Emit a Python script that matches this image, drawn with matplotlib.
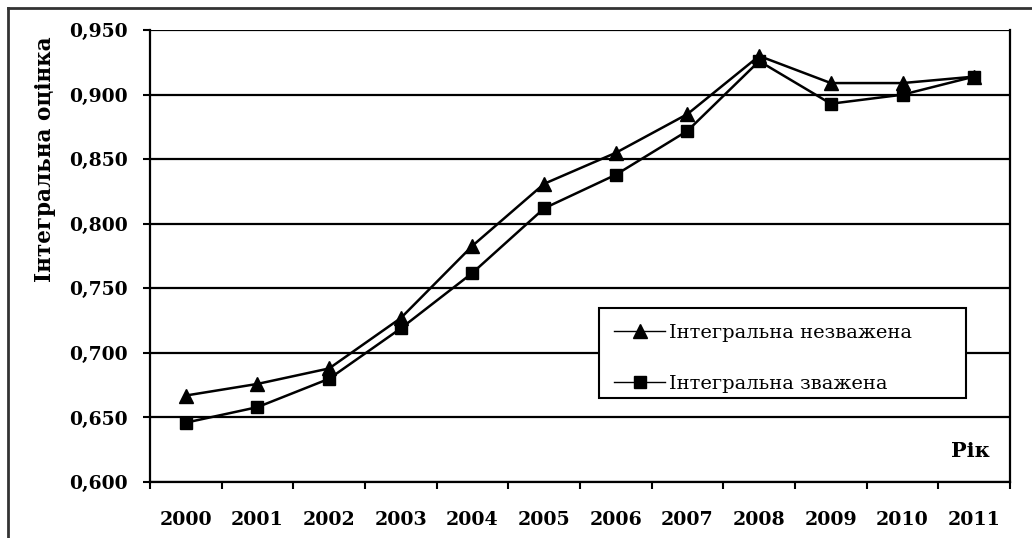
import matplotlib
matplotlib.use('Agg')
from matplotlib import pyplot as plt
from matplotlib.lines import Line2D
from matplotlib.patches import Rectangle
from matplotlib.ticker import FuncFormatter, FixedLocator

years = ['2000', '2001', '2002', '2003', '2004', '2005',
         '2006', '2007', '2008', '2009', '2010', '2011']
unweighted = [0.667, 0.676, 0.688, 0.727, 0.783, 0.831,
              0.855, 0.885, 0.930, 0.909, 0.909, 0.914]
weighted = [0.646, 0.658, 0.680, 0.719, 0.762, 0.812,
            0.838, 0.872, 0.926, 0.893, 0.900, 0.914]

plt.rcParams['font.family'] = ['DejaVu Serif', 'Liberation Serif']

fig = plt.figure(figsize=(10.32, 5.38), dpi=100)
ax = fig.add_axes([0.1453, 0.104, 0.8334, 0.840])

x = list(range(len(years)))
ax.plot(x, unweighted, color='black', lw=1.8, marker='^', markersize=10,
        label='Інтегральна незважена')
ax.plot(x, weighted, color='black', lw=1.8, marker='s', markersize=9,
        label='Інтегральна зважена')

ax.set_xlim(-0.5, len(years) - 0.5)
ax.set_ylim(0.600, 0.950)
ax.set_yticks([0.60 + 0.05 * i for i in range(8)])
ax.yaxis.set_major_formatter(FuncFormatter(lambda v, p: f'{v:.3f}'.replace('.', ',')))
ax.set_xticks(x)
ax.set_xticklabels(years)
ax.xaxis.set_minor_locator(FixedLocator([i - 0.5 for i in range(len(years) + 1)]))
ax.tick_params(axis='x', which='major', length=0, pad=21, labelsize=13.7)
ax.tick_params(axis='x', which='minor', length=5, width=1.5, direction='out')
ax.tick_params(axis='y', length=5, width=1.5, labelsize=13.5, pad=11)
for lab in ax.get_xticklabels() + ax.get_yticklabels():
    lab.set_fontweight('bold')

ax.grid(axis='y', color='black', lw=1.6)
ax.set_axisbelow(True)
for s in ['left', 'bottom', 'right']:
    ax.spines[s].set_linewidth(1.6)
ax.spines['top'].set_visible(False)

ax.set_ylabel('Інтегральна оцінка', fontsize=15.5, fontweight='bold')
ax.yaxis.set_label_coords(-0.109, 0.715)
ax.text(0.977, 0.069, 'Рік', transform=ax.transAxes, ha='right', va='center',
        fontsize=15, fontweight='bold')

# legend box (white, framed) and legend entries on top
ax.add_patch(Rectangle((0.522, 0.186), 0.4267, 0.199, transform=ax.transAxes,
                       facecolor='white', edgecolor='black', lw=1.5, zorder=4))
leg = ax.legend(loc='upper left', bbox_to_anchor=(0.522, 0.385), fontsize=14,
                frameon=False, borderpad=0.8, borderaxespad=0, handlelength=2.6,
                handletextpad=0.2, labelspacing=1.7)
leg.set_zorder(5)
for h in leg.get_lines():
    h.set_linewidth(1.0)

# outer frame
fig.add_artist(Line2D([8 / 1032, 1], [1 - 8 / 538, 1 - 8 / 538], color='#333333', lw=2))
fig.add_artist(Line2D([8 / 1032, 8 / 1032], [0, 1 - 8 / 538], color='#333333', lw=2))

fig.savefig('out.png', dpi=100)
